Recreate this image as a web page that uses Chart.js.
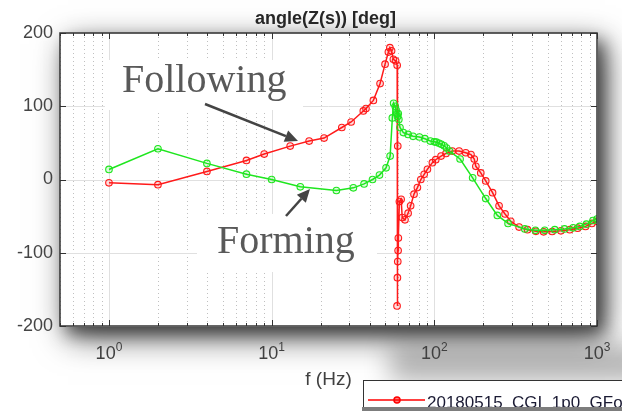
<!DOCTYPE html>
<html>
<head>
<meta charset="utf-8">
<script src="https://cdn.jsdelivr.net/npm/chart.js@4.4.0/dist/chart.umd.min.js"></script>
<style>
  html, body { margin: 0; padding: 0; background: #fff; }
  canvas { display: block; }
</style>
</head>
<body>
<canvas id="grafico" width="622" height="411"></canvas>
<script>
// ── Dados ──
const followingFreq = [1, 2, 4, 7, 9, 13, 17, 21, 27, 30.8, 36.6, 38, 42.2, 46.4, 49.8, 52.2, 53.3, 54.6, 56, 57.8,
    59.1, 59.6, 59.0, 59.3, 59.6, 59.9, 60.1, 61.0, 62.5, 63.5, 66, 69, 71.5, 75, 78.7, 82.6, 86.6, 90.7, 97.3, 102,
    110, 118, 129, 142, 156, 168, 176, 180, 193, 207, 228, 250, 272, 295, 332, 374, 421, 470, 530, 600,
    680, 760, 850, 930, 1000];
const followingPhase = [-4.5, -7, 11, 26, 34.7, 45.6, 52.5, 56.6, 71, 78.5, 93.6, 96.8, 108, 131, 157.5, 174, 180, 175.6, 164, 162,
    156, 45.6, -172.6, -134, -112, -97, -80, -30, -27, -52, -55, -46, -36, -20, -11, 0, 7, 14, 23, 27,
    32, 35.6, 38.8, 38.8, 36.5, 34, 28, 18, 9, -2, -18, -36, -47, -57, -65, -68.5, -70.7, -71.5, -71, -70,
    -68.5, -66.5, -64, -60, -57];

const formingFreq = [1, 2, 4, 7, 10, 15, 25, 31.8, 37, 41.7, 46, 50.5, 53.5, 55.2, 56.2, 57.5, 58.2, 58.8, 59.4, 60,
    60.5, 61.5, 64.5, 69, 74, 81, 87.5, 94.5, 100, 103, 107, 110.5, 115, 119, 124, 144, 172, 207, 244, 284,
    360, 418, 477, 550, 631, 713, 783, 861, 945, 1000];
const formingPhase = [13.7, 42, 22, 7.3, 0, -10, -15, -11.4, -6, 0, 6, 16, 32, 84, 104, 100, 95, 90, 86, 90,
    82, 71, 64, 61.6, 59, 58, 55.7, 52.5, 51.5, 51, 49.5, 48, 46, 43, 38.8, 28, 2.3, -26, -49, -60,
    -67.5, -69.4, -69.4, -68.5, -67.5, -66, -64, -61, -56, -54];

const yTicks = [-200, -100, 0, 100, 200];
const xDecades = [1, 10, 100, 1000];
const xDecadeExp = ['0', '1', '2', '3'];
const minorMult = [2, 3, 4, 5, 6, 7, 8, 9];
const legendLabel = '20180515_CGI_1p0_GFollowing';

const SANS = '"Liberation Sans", Arial, sans-serif';
const SERIF = '"Liberation Serif", "Times New Roman", serif';

// ── Aparência estilo MATLAB ──
function seta(ctx, x1, y1, x2, y2) {
    const ang = Math.atan2(y2 - y1, x2 - x1);
    const L = 13, W = 6;
    const bx = x2 - L * Math.cos(ang), by = y2 - L * Math.sin(ang);
    ctx.beginPath();
    ctx.moveTo(x1, y1);
    ctx.lineTo(bx, by);
    ctx.stroke();
    ctx.beginPath();
    ctx.moveTo(x2, y2);
    ctx.lineTo(bx + W * Math.sin(ang), by - W * Math.cos(ang));
    ctx.lineTo(bx - W * Math.sin(ang), by + W * Math.cos(ang));
    ctx.closePath();
    ctx.fill();
}

// só a sombra: o retângulo fica fora da tela
function sombra(ctx, x, y, w, h, cor, blur, dx, dy) {
    const OFF = 5000;
    ctx.save();
    ctx.shadowColor = cor;
    ctx.shadowBlur = blur;
    ctx.shadowOffsetX = OFF + dx;
    ctx.shadowOffsetY = dy;
    ctx.fillStyle = '#000';
    ctx.fillRect(x - OFF, y, w, h);
    ctx.restore();
}

function minorTicks(xs) {
    const out = [];
    [0.1, 1, 10, 100].forEach(d => minorMult.forEach(m => {
        const v = d * m;
        if (v >= xs.min && v <= xs.max) out.push(v);
    }));
    return out;
}

const matlabLook = {
    id: 'matlabLook',
    beforeDraw(chart) {
        const { ctx, chartArea: a, width, height } = chart;
        ctx.save();
        ctx.fillStyle = '#fff';
        ctx.fillRect(0, 0, width, height);
        ctx.restore();
        sombra(ctx, a.left + 330, a.bottom + 20, 400, 35, 'rgba(0,0,0,0.3)', 26, 0, 0);
        sombra(ctx, a.left, a.top, a.width, a.height, 'rgba(0,0,0,0.6)', 32, 8, 11);
        sombra(ctx, a.left, a.top, a.width, a.height, 'rgba(0,0,0,0.55)', 16, 7, 8);
        ctx.save();
        ctx.fillStyle = '#fff';
        ctx.fillRect(a.left, a.top, a.width, a.height);
        ctx.restore();
    },
    beforeDatasetsDraw(chart) {
        const { ctx, chartArea: a } = chart;
        const xs = chart.scales.x, ys = chart.scales.y;
        ctx.save();
        ctx.lineWidth = 1;
        // grade secundária (pontilhada)
        ctx.strokeStyle = '#c0c0c0';
        ctx.setLineDash([1, 3]);
        minorTicks(xs).forEach(v => {
            const px = Math.round(xs.getPixelForValue(v)) + 0.5;
            ctx.beginPath(); ctx.moveTo(px, a.top); ctx.lineTo(px, a.bottom); ctx.stroke();
        });
        // grade principal
        ctx.setLineDash([]);
        ctx.strokeStyle = '#e0e0e0';
        xDecades.forEach(v => {
            const px = Math.round(xs.getPixelForValue(v)) + 0.5;
            ctx.beginPath(); ctx.moveTo(px, a.top); ctx.lineTo(px, a.bottom); ctx.stroke();
        });
        yTicks.forEach(v => {
            const py = Math.round(ys.getPixelForValue(v)) + 0.5;
            ctx.beginPath(); ctx.moveTo(a.left, py); ctx.lineTo(a.right, py); ctx.stroke();
        });
        // caixas brancas das anotações
        ctx.fillStyle = '#fff';
        ctx.fillRect(105, 60, 198, 50);
        ctx.fillRect(197, 214, 180, 58);
        ctx.restore();
    },
    afterDatasetsDraw(chart) {
        const { ctx, chartArea: a } = chart;
        const xs = chart.scales.x, ys = chart.scales.y;
        ctx.save();
        ctx.strokeStyle = '#333';
        ctx.lineWidth = 1;
        // marcas internas
        const tick = (px, len) => {
            ctx.beginPath(); ctx.moveTo(px, a.bottom); ctx.lineTo(px, a.bottom - len); ctx.stroke();
            ctx.beginPath(); ctx.moveTo(px, a.top); ctx.lineTo(px, a.top + len); ctx.stroke();
        };
        minorTicks(xs).forEach(v => tick(Math.round(xs.getPixelForValue(v)) + 0.5, 3));
        xDecades.forEach(v => tick(Math.round(xs.getPixelForValue(v)) + 0.5, 6));
        yTicks.forEach(v => {
            const py = Math.round(ys.getPixelForValue(v)) + 0.5;
            ctx.beginPath(); ctx.moveTo(a.left, py); ctx.lineTo(a.left + 6, py); ctx.stroke();
            ctx.beginPath(); ctx.moveTo(a.right, py); ctx.lineTo(a.right - 6, py); ctx.stroke();
        });
        // caixa dos eixos
        ctx.lineWidth = 1.5;
        ctx.strokeRect(a.left, a.top, a.width, a.height);

        // anotações
        ctx.fillStyle = '#595959';
        ctx.font = '40px ' + SERIF;
        ctx.textBaseline = 'alphabetic';
        ctx.fillText('Following', 122, 92);
        ctx.fillText('Forming', 217, 253);
        ctx.strokeStyle = '#444';
        ctx.fillStyle = '#444';
        ctx.lineWidth = 2.5;
        seta(ctx, 205, 104, 298, 141);
        seta(ctx, 286, 216, 310, 189);
        ctx.restore();
    },
    afterDraw(chart) {
        const { ctx, chartArea: a } = chart;
        const xs = chart.scales.x;
        ctx.save();
        ctx.fillStyle = '#404040';
        ctx.textBaseline = 'alphabetic';
        // rótulos 10^n
        xDecades.forEach((v, i) => {
            const px = xs.getPixelForValue(v);
            ctx.font = '18px ' + SANS;
            const w1 = ctx.measureText('10').width;
            ctx.font = '12px ' + SANS;
            const w2 = ctx.measureText(xDecadeExp[i]).width;
            const x0 = px - (w1 + w2) / 2;
            ctx.font = '18px ' + SANS;
            ctx.fillText('10', x0, 359);
            ctx.font = '12px ' + SANS;
            ctx.fillText(xDecadeExp[i], x0 + w1, 351);
        });
        // título do eixo x
        ctx.font = '19px ' + SANS;
        ctx.textAlign = 'center';
        ctx.fillText('f (Hz)', (a.left + a.right) / 2, 385);
        // título
        ctx.fillStyle = '#262626';
        ctx.font = 'bold 18px ' + SANS;
        ctx.fillText('angle(Z(s)) [deg]', (a.left + a.right) / 2 - 3, 24);
        // legenda (cortada pela borda)
        ctx.textAlign = 'left';
        ctx.fillStyle = '#fff';
        ctx.fillRect(363.5, 380.5, 300, 40);
        ctx.strokeStyle = '#333';
        ctx.lineWidth = 1;
        ctx.strokeRect(363.5, 380.5, 300, 40);
        ctx.strokeStyle = '#ff0000';
        ctx.lineWidth = 1.5;
        ctx.beginPath(); ctx.moveTo(368, 400); ctx.lineTo(425, 400); ctx.stroke();
        ctx.beginPath(); ctx.arc(397, 400, 3, 0, Math.PI * 2);
        ctx.fillStyle = 'rgba(255,0,0,0.5)'; ctx.fill(); ctx.stroke();
        ctx.fillStyle = '#1a1a33';
        ctx.font = '17px ' + SANS;
        ctx.fillText(legendLabel, 427, 408);
        // faixa cinza inferior da captura
        ctx.fillStyle = '#7d7d7d';
        ctx.fillRect(362, 407, 260, 4);
        ctx.restore();
    }
};

// ── Gráfico ──
const pontos = (fs, vs) => fs.map((f, i) => ({ x: f, y: vs[i] }));

new Chart(document.getElementById('grafico'), {
    type: 'line',
    data: {
        datasets: [
            {
                label: 'Forming',
                data: pontos(formingFreq, formingPhase),
                borderColor: '#1fe61f',
                backgroundColor: 'rgba(30,230,30,0.15)',
                borderWidth: 1.5,
                pointRadius: 3.3,
                pointBorderWidth: 1.1,
                tension: 0
            },
            {
                label: 'Following',
                data: pontos(followingFreq, followingPhase),
                borderColor: '#ff1a1a',
                backgroundColor: 'rgba(255,20,20,0.15)',
                borderWidth: 1.5,
                pointRadius: 3.3,
                pointBorderWidth: 1.1,
                tension: 0
            }
        ]
    },
    options: {
        responsive: false,
        animation: false,
        devicePixelRatio: 1,
        layout: { padding: { top: 33, right: 25, left: 0, bottom: 0 } },
        plugins: { legend: { display: false }, tooltip: { enabled: false }, title: { display: false } },
        scales: {
            x: {
                type: 'logarithmic',
                min: 0.5,
                max: 1000,
                ticks: { display: false },
                grid: { display: false, drawTicks: false },
                border: { display: false },
                afterFit: s => { s.height = 85; }
            },
            y: {
                min: -200,
                max: 200,
                afterBuildTicks: s => { s.ticks = yTicks.map(v => ({ value: v })); },
                ticks: { padding: 7, color: '#444', font: { family: SANS, size: 18 } },
                grid: { display: false, drawTicks: false },
                border: { display: false },
                afterFit: s => { s.width = 60; }
            }
        }
    },
    plugins: [matlabLook]
});
</script>
</body>
</html>
